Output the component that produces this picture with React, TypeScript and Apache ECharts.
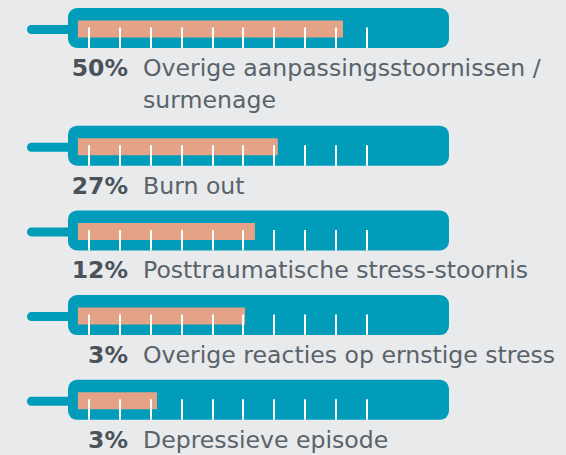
import React, { useEffect, useRef } from "react";
import * as echarts from "echarts";

// ---- data ----
const percentLabels: string[] = ["50%", "27%", "12%", "3%", "3%"];
const categoryLines: string[][] = [
  ["Overige aanpassingsstoornissen /", "surmenage"],
  ["Burn out"],
  ["Posttraumatische stress-stoornis"],
  ["Overige reacties op ernstige stress"],
  ["Depressieve episode"],
];
// fill level of each thermometer, in scale units (ticks are at 1..10)
const fillLevels: number[] = [9.22, 7.11, 6.37, 6.05, 3.2];
const tickValues: number[] = [1, 2, 3, 4, 5, 6, 7, 8, 9, 10];

// ---- scale / style constants ----
const SCALE_MIN = 0;
const SCALE_MAX = 13;
const BODY_START = 0.32;
const BODY_END = 12.65;
const FILL_START = 0.64;

const TEAL = "#009cba";
const SALMON = "#e4a386";
const BG = "#e9eaec";
const TEXT = "#5a636a";
const TEXT_BOLD = "#4b535a";
const FONT = "'DejaVu Sans', Inter, sans-serif";

const ROW_TOP0 = 8;
const ROW_STEP = 84.7;
const LINE_H = 32;

export default function App() {
  const ref = useRef<HTMLDivElement>(null);
  useEffect(() => {
    if (!ref.current) return;
    const chart = echarts.init(ref.current, undefined, { renderer: "svg" });

    const rowTop = (i: number) => {
      let extra = 0;
      for (let k = 0; k < i; k++) extra += (categoryLines[k].length - 1) * (LINE_H + 1);
      return ROW_TOP0 + ROW_STEP * i + extra;
    };

    const renderItem = (params: any, api: any) => {
      const idx = api.value(2);
      const fill = api.value(0);
      const top = rowTop(idx);
      const X = (v: number) => api.coord([v, 0])[0];
      const bodyL = X(BODY_START);
      const bodyR = X(BODY_END);
      const children: any[] = [];
      // stem
      children.push({
        type: "rect",
        shape: { x: bodyL - 41, y: top + 17, width: 50, height: 9, r: 4.5 },
        style: { fill: TEAL },
      });
      // body
      children.push({
        type: "rect",
        shape: { x: bodyL, y: top, width: bodyR - bodyL, height: 40, r: 9 },
        style: { fill: TEAL },
      });
      // fill
      const fl = X(FILL_START);
      children.push({
        type: "rect",
        shape: { x: fl, y: top + 12.5, width: X(fill) - fl, height: 17 },
        style: { fill: SALMON },
      });
      // ticks
      tickValues.forEach((t) => {
        const x = Math.round(X(t));
        children.push({
          type: "line",
          shape: { x1: x, y1: top + 19.5, x2: x, y2: top + 40 },
          style: { stroke: "#ffffff", lineWidth: 2 },
        });
      });
      // labels
      const ty = top + 60;
      children.push({
        type: "text",
        style: {
          text: percentLabels[idx],
          x: 128,
          y: ty,
          align: "right",
          verticalAlign: "middle",
          fontFamily: FONT,
          fontWeight: "bold",
          fontSize: 23.5,
          fill: TEXT_BOLD,
        },
      });
      categoryLines[idx].forEach((line, li) => {
        children.push({
          type: "text",
          style: {
            text: line,
            x: 143,
            y: ty + li * LINE_H,
            align: "left",
            verticalAlign: "middle",
            fontFamily: FONT,
            fontSize: 23.6,
            fill: TEXT,
          },
        });
      });
      return { type: "group", children };
    };

    chart.setOption({
      animation: false,
      backgroundColor: BG,
      grid: { left: 58.1, width: 30.9 * (SCALE_MAX - SCALE_MIN), top: 0, height: 455 },
      xAxis: { type: "value", min: SCALE_MIN, max: SCALE_MAX, show: false },
      yAxis: { type: "value", min: 0, max: 1, show: false },
      series: [
        {
          type: "custom",
          coordinateSystem: "cartesian2d",
          silent: true,
          clip: false,
          encode: { x: 0, y: 1 },
          renderItem,
          data: fillLevels.map((f, i) => [f, 0, i]),
        },
      ],
    });
    return () => chart.dispose();
  }, []);
  return (
    <div
      ref={ref}
      style={{ position: "fixed", left: 0, top: 0, width: 566, height: 455, background: BG }}
    />
  );
}
